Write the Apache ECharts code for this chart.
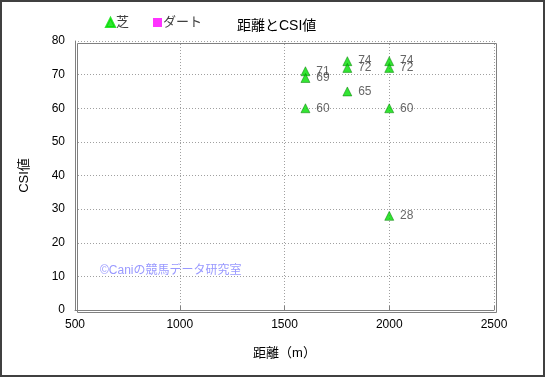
<!DOCTYPE html>
<html lang="ja">
<head>
    <meta charset="UTF-8">
    <title>距離とCSI値</title>
    <script src="https://cdn.jsdelivr.net/npm/echarts@6/dist/echarts.min.js"></script>
</head>
<body style="margin: 0">
<div id="chart" style="width: 545px;height: 377px"></div>
<script>
    // 芝 (turf) points: distance / CSI
    let turfDist = [1600, 1600, 1600, 1800, 1800, 1800, 2000, 2000, 2000, 2000];
    let turfCsi = [71, 69, 60, 74, 72, 65, 74, 72, 60, 28];
    // ダート (dirt): no points in this chart
    let dirtDist = [];
    let dirtCsi = [];

    let font = '"Liberation Sans", "Noto Sans CJK JP", sans-serif';
    let chart = echarts.init(document.getElementById('chart'));

    let option = {
        backgroundColor: '#ffffff',
        textStyle: { fontFamily: font },
        title: {
            text: '距離とCSI値',
            left: 232,
            top: 14,
            textStyle: { fontSize: 14, fontWeight: 'normal', color: '#000000', fontFamily: font }
        },
        legend: {
            left: 100,
            top: 11,
            itemGap: 24,
            itemWidth: 9,
            itemHeight: 9,
            textStyle: { fontSize: 13, color: '#404040', padding: [0, 0, 0, -4] },
            data: [
                { name: '芝', icon: 'triangle', itemStyle: { color: '#00dd00', borderColor: '#00dd00' } },
                { name: 'ダート', icon: 'rect', itemStyle: { color: '#ff00ff', borderColor: '#ff00ff' } }
            ]
        },
        grid: { left: 75, right: 51, top: 41, bottom: 67 },
        xAxis: {
            type: 'value',
            min: 500, max: 2500, interval: 500,
            name: '距離（m）',
            nameLocation: 'middle',
            nameGap: 37,
            nameTextStyle: { fontSize: 13, color: '#000000' },
            axisLine: { show: true, lineStyle: { color: '#808080' } },
            axisTick: { show: true, length: 4, inside: true, lineStyle: { color: '#808080' } },
            axisLabel: { fontSize: 12, color: '#000000', margin: 9, formatter: function (v) { return String(v); } },
            splitLine: { show: true, lineStyle: { color: '#a0a0a0', type: [1, 2] } }
        },
        yAxis: {
            type: 'value',
            min: 0, max: 80, interval: 10,
            name: 'CSI値',
            nameLocation: 'middle',
            nameGap: 44,
            nameTextStyle: { fontSize: 13, color: '#000000' },
            axisLine: { show: true, lineStyle: { color: '#808080' } },
            axisTick: { show: false },
            axisLabel: { fontSize: 12, color: '#000000', margin: 10 },
            splitLine: { show: true, lineStyle: { color: '#a0a0a0', type: [1, 2] } }
        },
        graphic: [
            {
                type: 'rect',
                shape: { x: 0, y: 0, width: 494 - 75, height: 310 - 41 },
                left: 75, top: 41,
                style: { fill: 'none', stroke: '#808080', lineWidth: 1 },
                silent: true
            },
            {
                type: 'rect',
                shape: { x: 1, y: 1, width: 543, height: 375 },
                style: { fill: 'none', stroke: '#404040', lineWidth: 2 },
                silent: true
            },
            {
                type: 'text',
                left: 100, top: 265,
                style: {
                    text: '©Caniの競馬データ研究室',
                    fontSize: 12,
                    fontFamily: font,
                    fill: '#9999ff'
                },
                silent: true
            }
        ],
        series: [
            {
                name: '芝',
                type: 'scatter',
                symbol: 'triangle',
                symbolSize: 9,
                itemStyle: { color: '#00dd00', borderColor: '#007700', borderWidth: 0.6 },
                label: {
                    show: true,
                    position: 'right',
                    distance: 6,
                    fontSize: 12,
                    color: '#404040',
                    formatter: function (p) { return p.value[1]; }
                },
                data: turfDist.map(function (d, i) { return [d, turfCsi[i]]; })
            },
            {
                name: 'ダート',
                type: 'scatter',
                symbol: 'rect',
                symbolSize: 8,
                itemStyle: { color: '#ff00ff' },
                data: dirtDist.map(function (d, i) { return [d, dirtCsi[i]]; })
            }
        ]
    };
    chart.setOption(option);
</script>
</body>
</html>
